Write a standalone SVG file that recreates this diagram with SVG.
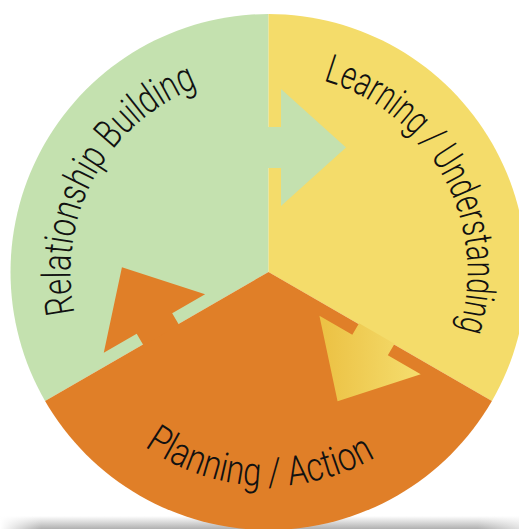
<svg xmlns="http://www.w3.org/2000/svg" width="519" height="529" viewBox="0 0 519 529">
<style>
.lbl{font-family:Roboto,"Liberation Sans",sans-serif;font-weight:300;font-size:40px;fill:#111}
.g{fill:#C4E1AF}.y{fill:#F4DC6A}.o{fill:#E07F28}
</style>
<defs>
<linearGradient id="yg" gradientUnits="userSpaceOnUse" x1="325" y1="0" x2="415" y2="0"><stop offset="0" stop-color="#ECC245"/><stop offset="1" stop-color="#F4DC6C"/></linearGradient>
<linearGradient id="sh" x1="0" y1="0" x2="0" y2="1"><stop offset="0" stop-color="#ffffff"/><stop offset="1" stop-color="#b0b0b0"/></linearGradient>
<linearGradient id="shx" x1="0" y1="0" x2="1" y2="0"><stop offset="0" stop-color="#fff" stop-opacity="1"/><stop offset="0.08" stop-color="#fff" stop-opacity="0"/><stop offset="0.92" stop-color="#fff" stop-opacity="0"/><stop offset="1" stop-color="#fff" stop-opacity="0.6"/></linearGradient>
<path id="pRB" d="M74.8,313.2 A198,198 0 0 1 197.5,87.2"/>
<path id="pLU" d="M323.3,80.7 A199,199 0 0 1 458.8,330.2"/>
<path id="pPA" d="M144.5,446.4 A214,214 0 0 0 375.5,457.3"/>
</defs>
<rect x="0" y="516" width="519" height="13" fill="url(#sh)"/>
<rect x="0" y="516" width="519" height="13" fill="url(#shx)"/>
<g id="relationship">
<path class="g" d="M268.5,272 L45.07,401 A258,258 0 0 1 268.5,14 Z"/>
<text class="lbl"><textPath href="#pRB" textLength="280" lengthAdjust="spacingAndGlyphs">Relationship Building</textPath></text>
</g>
<g id="learning">
<path class="y" d="M268.5,272 L268.5,14 A258,258 0 0 1 491.93,401 Z"/>
<text class="lbl"><textPath href="#pLU" textLength="316" lengthAdjust="spacingAndGlyphs">Learning / Understanding</textPath></text>
</g>
<g id="planning">
<path class="o" d="M268.5,272 L491.93,401 A258,258 0 0 1 45.07,401 Z"/>
<text class="lbl"><textPath href="#pPA" textLength="244" lengthAdjust="spacingAndGlyphs">Planning / Action</textPath></text>
</g>
<g id="connectors">
<polygon class="g" points="267.5,127 281,127 281,89 346,147.5 281,206 281,168 267.5,168"/>
<polygon fill="url(#yg)" points="394.57,343.63 387.82,355.33 420.73,374.33 337.57,401.37 319.41,315.83 352.31,334.83 359.06,323.13"/>
<polygon class="o" points="143.43,345.37 136.68,333.68 103.77,352.68 121.93,267.13 205.09,294.18 172.19,313.18 178.94,324.87"/>
</g>
</svg>
